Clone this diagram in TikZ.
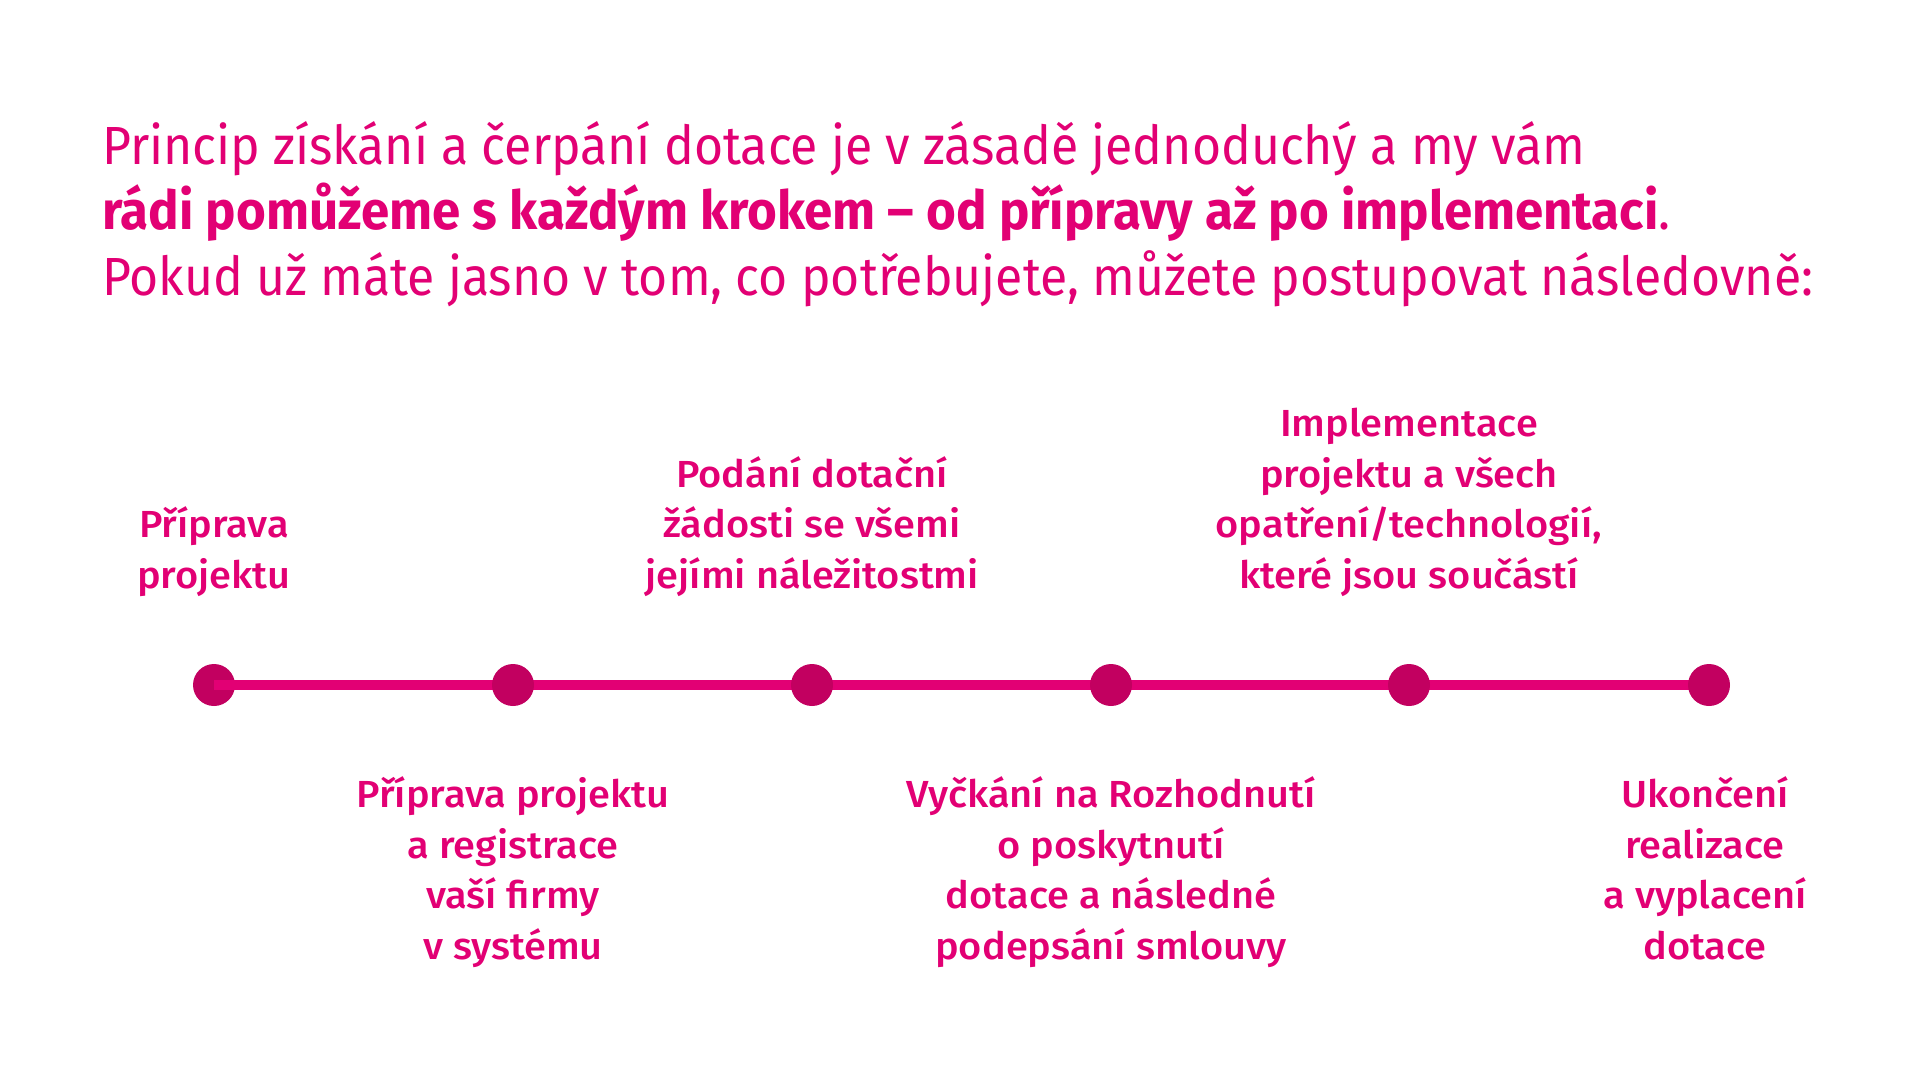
\documentclass[tikz,border=0pt]{standalone}
\usepackage{fontspec}
\setmainfont{Fira Sans}[FakeStretch=0.93, BoldFeatures={FakeStretch=0.95}]
\newfontfamily\medfont{Fira Sans Medium}[FakeStretch=1.055]
\definecolor{tmagenta}{RGB}{226,0,116}
\definecolor{tdot}{RGB}{194,0,96}
\tikzset{
  dot/.style={circle, fill=tdot, inner sep=0pt, minimum size=42pt},
  track/.style={line width=10pt, tmagenta},
  steplabel/.style={anchor=base, align=center, inner sep=0pt, text=tmagenta,
    font=\medfont\fontsize{37.7}{50.5}\selectfont},
  intro/.style={anchor=base west, align=left, inner sep=0pt, text=tmagenta,
    font=\fontsize{53.7}{65.5}\selectfont}
}
\begin{document}
\begin{tikzpicture}[x=1pt, y=-1pt]
  \useasboundingbox (0,0) rectangle (1920,1080);
  \node[intro] (intro) at (102,295) {Princip získání a čerpání dotace je v zásadě jednoduchý a my vám\\
    \textbf{rádi pomůžeme s každým krokem – od přípravy až po implementaci}.\\
    Pokud už máte jasno v tom, co potřebujete, můžete postupovat následovně:};
  % timeline
  \node[dot] (d1) at (214,685) {};
  \coordinate (end) at (1709,685);
  \draw[track] (d1.center) -- (end);
  \node[dot] (d2) at (513,685) {};
  \node[dot] (d3) at (812,685) {};
  \node[dot] (d4) at (1111,685) {};
  \node[dot] (d5) at (1409,685) {};
  \node[dot] (d6) at (end) {};
  % labels above
  \node[steplabel] (l1) at (214,588) {Příprava\\projektu};
  \node[steplabel] (l3) at (812,588) {Podání dotační\\žádosti se všemi\\jejími náležitostmi};
  \node[steplabel] (l5) at (1409,588) {Implementace\\projektu a všech\\opatření/technologií,\\které jsou součástí};
  % labels below
  \node[steplabel] (l2) at (513,959) {Příprava projektu\\a registrace\\vaší firmy\\v systému};
  \node[steplabel] (l4) at (1111,959) {Vyčkání na Rozhodnutí\\o poskytnutí\\dotace a následné\\podepsání smlouvy};
  \node[steplabel] (l6) at (1705,959) {Ukončení\\realizace\\a vyplacení\\dotace};
\end{tikzpicture}
\end{document}
